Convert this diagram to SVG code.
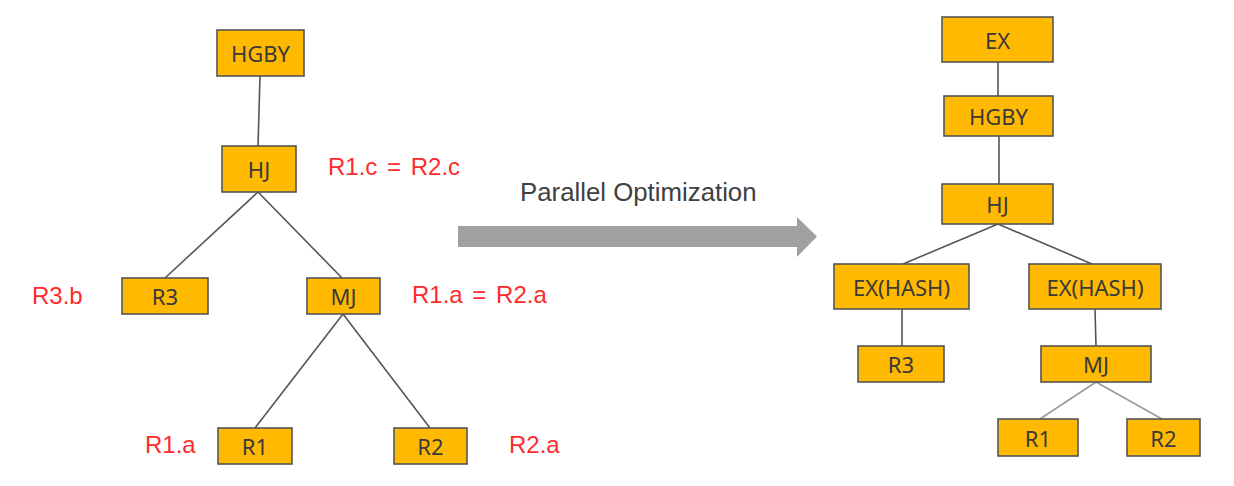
<svg xmlns="http://www.w3.org/2000/svg" width="1234" height="486" viewBox="0 0 1234 486">
<style>
.n rect{fill:#FFB900;stroke:#555;stroke-width:1.6}
.n text{font-family:"Noto Sans","Open Sans",sans-serif;font-size:22px;fill:#3a3a3a;text-anchor:middle;dominant-baseline:central}
.c line{stroke:#555;stroke-width:1.6}
.c line.l{stroke:#9a9a9a}
.lab{font-family:"Liberation Sans",Arial,sans-serif;font-size:24px;fill:#ff2a2a;word-spacing:3px}
.cap{font-family:"Liberation Sans",Arial,sans-serif;font-size:25.8px;fill:#404040}
</style>
<rect width="1234" height="486" fill="#fff"/>
<g id="connectors" class="c">
<line x1="260" y1="76" x2="258" y2="146"/>
<line x1="258" y1="192" x2="165" y2="278"/>
<line x1="258" y1="192" x2="342" y2="278"/>
<line x1="343" y1="314" x2="255" y2="428"/>
<line x1="343" y1="314" x2="430" y2="428"/>
<line x1="998" y1="62" x2="998" y2="96"/>
<line x1="999" y1="136" x2="999" y2="184"/>
<line x1="998" y1="224" x2="903" y2="264"/>
<line x1="998" y1="224" x2="1092" y2="264"/>
<line x1="902" y1="309" x2="902" y2="346"/>
<line x1="1095" y1="309" x2="1096" y2="346"/>
<line class="l" x1="1096" y1="382" x2="1040" y2="419"/>
<line class="l" x1="1096" y1="382" x2="1162" y2="419"/>
</g>
<g id="l-hgby" class="n"><rect x="217" y="30" width="87" height="46"/><text x="260.5" y="53">HGBY</text></g>
<g id="l-hj" class="n"><rect x="222" y="146" width="74" height="46"/><text x="259" y="169">HJ</text></g>
<g id="l-r3" class="n"><rect x="122" y="278" width="86" height="36"/><text x="165" y="296">R3</text></g>
<g id="l-mj" class="n"><rect x="307" y="278" width="73" height="36"/><text x="343.5" y="296">MJ</text></g>
<g id="l-r1" class="n"><rect x="218" y="428" width="74" height="36"/><text x="255" y="446">R1</text></g>
<g id="l-r2" class="n"><rect x="394" y="428" width="73" height="36"/><text x="430.5" y="446">R2</text></g>
<g id="labels">
<text class="lab" x="328" y="175">R1.c = R2.c</text>
<text class="lab" x="32" y="304">R3.b</text>
<text class="lab" x="412" y="303">R1.a = R2.a</text>
<text class="lab" x="145" y="453">R1.a</text>
<text class="lab" x="509" y="453">R2.a</text>
</g>
<g id="transform-arrow">
<text class="cap" x="520" y="201">Parallel Optimization</text>
<polygon points="458,226 797,226 797,217 817,236.5 797,257 797,247 458,247" fill="#a0a0a0"/>
</g>
<g id="r-ex" class="n"><rect x="942" y="17" width="111" height="45"/><text x="997.5" y="39.5">EX</text></g>
<g id="r-hgby" class="n"><rect x="944" y="96" width="109" height="40"/><text x="998.5" y="116">HGBY</text></g>
<g id="r-hj" class="n"><rect x="942" y="184" width="111" height="40"/><text x="997.5" y="204">HJ</text></g>
<g id="r-exh1" class="n"><rect x="834" y="264" width="135" height="45"/><text x="901.5" y="286.5">EX(HASH)</text></g>
<g id="r-exh2" class="n"><rect x="1029" y="264" width="132" height="45"/><text x="1095" y="286.5">EX(HASH)</text></g>
<g id="r-r3" class="n"><rect x="858" y="346" width="86" height="36"/><text x="901" y="364">R3</text></g>
<g id="r-mj" class="n"><rect x="1041" y="346" width="110" height="36"/><text x="1096" y="364">MJ</text></g>
<g id="r-r1" class="n"><rect x="998" y="419" width="80" height="37"/><text x="1038" y="437.5">R1</text></g>
<g id="r-r2" class="n"><rect x="1127" y="419" width="73" height="37"/><text x="1163.5" y="437.5">R2</text></g>
</svg>
